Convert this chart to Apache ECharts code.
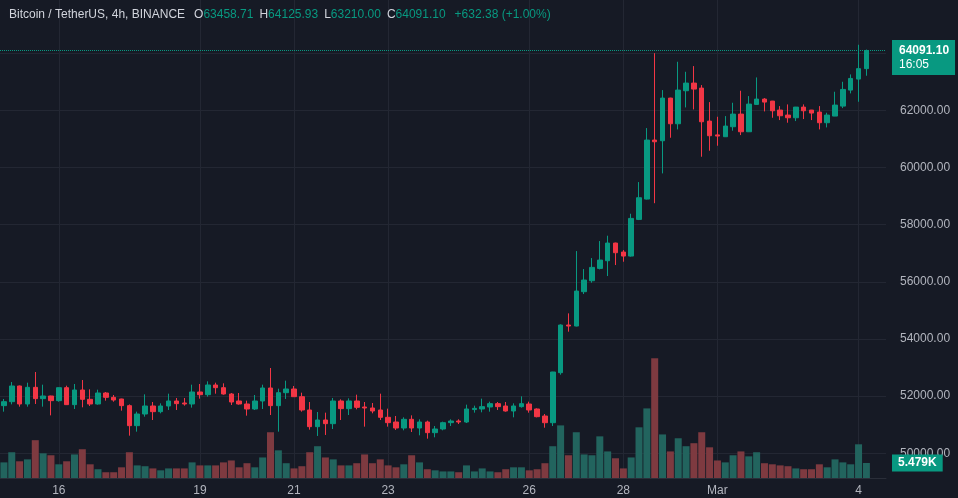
<!DOCTYPE html>
<html><head><meta charset="utf-8">
<script src="https://cdn.jsdelivr.net/npm/echarts@6/dist/echarts.min.js"></script>
<style>html,body{margin:0;padding:0;background:#161a25;}#c{width:958px;height:498px;}</style>
</head><body><div id="c"></div>
<script>
const symbolName = 'Bitcoin / TetherUS, 4h, BINANCE';
const countdown = '16:05';
const tickDates = ['2024-02-16 00:00','2024-02-19 00:00','2024-02-21 00:00','2024-02-23 00:00','2024-02-26 00:00','2024-02-28 00:00','2024-03-01 00:00','2024-03-04 00:00'];
const tickLabels = ['16','19','21','23','26','28','Mar','4'];

const opens = [51667,51806,52355,51725,52308,51912,52005,51842,52296,51702,
 52215,51888,51725,52110,51958,51900,51667,50967,51375,51655,
 51457,51655,51830,51760,51725,52145,52051,52390,52296,52075,
 51830,51725,51550,51830,52285,51667,52121,52250,51981,51515,
 50932,51165,51037,51830,51562,51830,51620,51585,51515,51259,
 51095,50885,51189,50885,51095,50722,50850,51072,51130,51095,
 51530,51550,51620,51737,51655,51480,51632,51724,51550,51304,
 51071,52820,54488,54453,55654,56038,56470,56738,57356,57041,
 56901,58184,58895,60960,60936,62428,61530,62685,62953,62778,
 61623,61140,61076,61426,61868,61250,62207,62393,62323,62009,
 61834,61740,62113,62009,61939,61566,61799,62148,62708,63093,
 63458.71];
const highs = [51900,52494,52370,52471,52844,52401,52015,52300,52366,52425,
 52564,52238,52226,52145,52040,51910,51710,51457,52063,51795,
 51748,52086,51935,51935,52401,52425,52518,52471,52448,52110,
 52110,51842,52040,52401,52984,52261,52541,52355,52121,51795,
 51445,51422,51935,51888,51923,52051,51795,51760,52086,51562,
 51305,51259,51328,51189,51142,50955,51107,51189,51189,51702,
 51667,51912,51806,51795,51795,51748,51993,51806,51573,51375,
 52850,54511,54896,57076,56447,56831,57426,57613,57370,57111,
 58382,59490,61379,64000,62708,62440,63699,63349,63548,62883,
 62288,61775,61798,62265,62685,62498,63151,62428,62330,62148,
 62207,62120,62207,62015,62148,61915,62650,62999,63256,64294,
 64125.93];
const lows = [51457,51713,51632,51632,51725,51632,51328,51806,51690,51550,
 51608,51655,51702,51842,51806,51492,50617,50757,51282,51165,
 51399,51515,51515,51667,51597,51912,51982,52086,52051,51690,
 51702,51317,51515,51550,51340,50757,51900,51975,51457,50827,
 50606,50641,50850,51165,51340,51538,50932,51399,51165,50932,
 50815,50804,50745,50629,50512,50559,50804,50955,51025,51060,
 51422,51434,51457,51515,51457,51259,51597,51421,51258,50896,
 50955,52750,54255,54440,55572,55969,56435,56202,56587,56703,
 56880,58160,58880,58750,59793,61041,61332,62102,62032,60376,
 60586,60761,61070,61286,61134,61240,62190,61962,61740,61659,
 61566,61624,61694,61659,61332,61402,61795,62078,62592,62300,
 63210.00];
const closes = [51806,52355,51725,52308,51912,52005,51842,52296,51702,52215,
 51888,51725,52110,51958,51865,51667,50967,51375,51655,51457,
 51655,51830,51737,51725,52145,52051,52390,52296,52075,51795,
 51725,51550,51830,52285,51667,52121,52250,51981,51515,50932,
 51165,51037,51830,51562,51830,51608,51585,51480,51259,51072,
 50885,51189,50885,51095,50722,50850,51072,51130,51095,51550,
 51573,51632,51737,51632,51480,51655,51737,51515,51281,51071,
 52844,54488,54453,55677,56062,56505,56761,57356,57018,56901,
 58219,58942,60959,60900,62428,61530,62708,62953,62743,61600,
 61111,61100,61449,61868,61250,62218,62393,62288,61985,61810,
 61740,62113,61985,61904,61566,61834,62183,62731,63116,63458.72,
 64091.10];
const volumes = [5700,9400,6100,6800,13800,9000,8300,5000,6100,8600,
 10500,5000,3200,2100,2100,3900,9400,4600,4300,3500,
 2800,3500,3500,3500,5700,4600,4600,4600,5700,6400,
 3900,5400,3900,7500,16700,10100,5400,3500,4300,9400,
 11600,7500,6800,4600,4600,5400,8600,5400,6800,4600,
 3900,5000,8300,5700,3200,2800,2400,2400,2100,4600,
 2400,3500,2400,2100,3200,3900,3900,2800,3200,5400,
 11600,19200,8300,16700,8600,8300,15200,9700,7200,3500,
 7500,18500,25400,43700,15900,9700,14500,11600,12700,16700,
 11200,6400,5700,8300,9700,7900,9400,5400,5000,4600,
 4300,3500,3200,3200,5000,3900,6800,5700,5000,12300,
 5479];
const emptySlots = 2;

const UP = '#089981', DOWN = '#f23645';
const VOL_UP = '#22645e', VOL_DOWN = '#7e3a40';
const n = opens.length;
const start = Date.UTC(2024, 1, 14, 20, 0);
const pad = x => String(x).padStart(2, '0');
const cats = [];
for (let i = 0; i < n + emptySlots; i++) {
  const d = new Date(start + i * 4 * 3600 * 1000);
  cats.push(d.getUTCFullYear() + '-' + pad(d.getUTCMonth() + 1) + '-' + pad(d.getUTCDate()) + ' ' + pad(d.getUTCHours()) + ':00');
}
const candleData = cats.map((c, i) => i < n ? [opens[i], closes[i], lows[i], highs[i]] : '-');
const volData = cats.map((c, i) => i < n ? { value: volumes[i], itemStyle: { color: closes[i] >= opens[i] ? VOL_UP : VOL_DOWN } } : '-');

const lo = opens[n-1], hi = highs[n-1], lw = lows[n-1], cl = closes[n-1];
const chg = cl - closes[n-2];
const pct = chg / closes[n-2] * 100;
const sign = chg >= 0 ? '+' : '';
const header = `{n|${symbolName}}{g| }{k|O}{v|${lo.toFixed(2)}}{s| }{k|H}{v|${hi.toFixed(2)}}{s| }{k|L}{v|${lw.toFixed(2)}}{s| }{k|C}{v|${cl.toFixed(2)}}{g| }{v|${sign}${chg.toFixed(2)} (${sign}${pct.toFixed(2)}%)}`;

const FONT = 'Liberation Sans, Arial, sans-serif';
const chart = echarts.init(document.getElementById('c'));
chart.setOption({
  backgroundColor: '#161a25',
  animation: false,
  textStyle: { fontFamily: FONT },
  title: {
    left: 4, top: 4, text: header,
    textStyle: {
      fontFamily: FONT, fontWeight: 'normal',
      rich: {
        n: { color: '#d1d4dc', fontSize: 12, fontWeight: 'normal', fontFamily: FONT },
        k: { color: '#d1d4dc', fontSize: 12, fontWeight: 'normal', fontFamily: FONT },
        v: { color: UP, fontSize: 12, fontWeight: 'normal', fontFamily: FONT },
        g: { width: 9, fontSize: 12 },
        s: { width: 6, fontSize: 12 }
      }
    }
  },
  grid: [
    { left: 0, right: 72, top: -4, bottom: 44.7, containLabel: false, outerBoundsMode: 'none' },
    { left: 0, right: 72, top: 341, bottom: 20, containLabel: false, outerBoundsMode: 'none' },
    { left: 0, right: 72, top: -4, bottom: 20, containLabel: false, outerBoundsMode: 'none' }
  ],
  xAxis: [
    { type: 'category', gridIndex: 0, data: cats, axisLine: { show: false }, axisTick: { show: false }, axisLabel: { show: false }, splitLine: { show: false } },
    { type: 'category', gridIndex: 1, data: cats, axisLine: { show: true, lineStyle: { color: '#2a2e39' } }, axisTick: { show: false }, splitLine: { show: false },
      axisLabel: { interval: (i, v) => tickDates.includes(v), formatter: v => tickLabels[tickDates.indexOf(v)] || '', color: '#b2b5be', fontSize: 12, margin: 7, fontFamily: FONT } },
    { type: 'category', gridIndex: 2, data: cats, show: false }
  ],
  yAxis: [
    { type: 'value', gridIndex: 0, position: 'right', min: 50000, max: 66000, interval: 2000, scale: false,
      axisLine: { show: false }, axisTick: { show: false },
      axisLabel: { formatter: v => v >= 64000 ? '' : v.toFixed(2), color: '#b2b5be', fontSize: 12, margin: 14, fontFamily: FONT },
      splitLine: { show: true, lineStyle: { color: '#232733', width: 1 } } },
    { type: 'value', gridIndex: 1, min: 0, max: 50000, show: false, splitLine: { show: false } },
    { type: 'value', gridIndex: 2, min: 0, max: 1, show: false, splitLine: { show: false } }
  ],
  series: [
    { type: 'line', xAxisIndex: 2, yAxisIndex: 2, data: cats.map(() => '-'), silent: true, z: 0,
      markLine: { silent: true, symbol: 'none', z: 0, animation: false, label: { show: false },
        lineStyle: { color: '#232733', type: 'solid', width: 1 },
        data: tickDates.map(d => ({ xAxis: d })) } },
    { type: 'bar', xAxisIndex: 1, yAxisIndex: 1, data: volData, barWidth: 7, z: 1,
      markLine: { silent: true, symbol: 'none', animation: false, z: 6,
        lineStyle: { color: 'rgba(0,0,0,0)', width: 1 },
        label: { show: true, position: 'end', distance: 6, formatter: () => (volumes[n-1] / 1000).toFixed(3) + 'K',
          backgroundColor: UP, color: '#ffffff', fontSize: 12, fontWeight: 'bold', padding: [3, 6, 2, 6], fontFamily: FONT },
        data: [{ yAxis: volumes[n-1] }] } },
    { type: 'candlestick', xAxisIndex: 0, yAxisIndex: 0, data: candleData, barWidth: 5, z: 3,
      itemStyle: { color: UP, color0: DOWN, borderColor: UP, borderColor0: DOWN, borderWidth: 1 },
      markLine: { silent: true, symbol: 'none', animation: false,
        lineStyle: { color: UP, type: 'dotted', width: 1 },
        label: { show: true, position: 'end', distance: 6, offset: [0, 7],
          formatter: () => `{p|${cl.toFixed(2)}}\n{t|${countdown}}`,
          backgroundColor: UP, padding: [3, 6, 3, 7],
          rich: { p: { color: '#ffffff', fontSize: 12, fontWeight: 'bold', lineHeight: 15, fontFamily: FONT },
                  t: { color: '#ffffff', fontSize: 12, lineHeight: 14, fontFamily: FONT } } },
        data: [{ yAxis: cl }] } }
  ]
});
</script></body></html>
